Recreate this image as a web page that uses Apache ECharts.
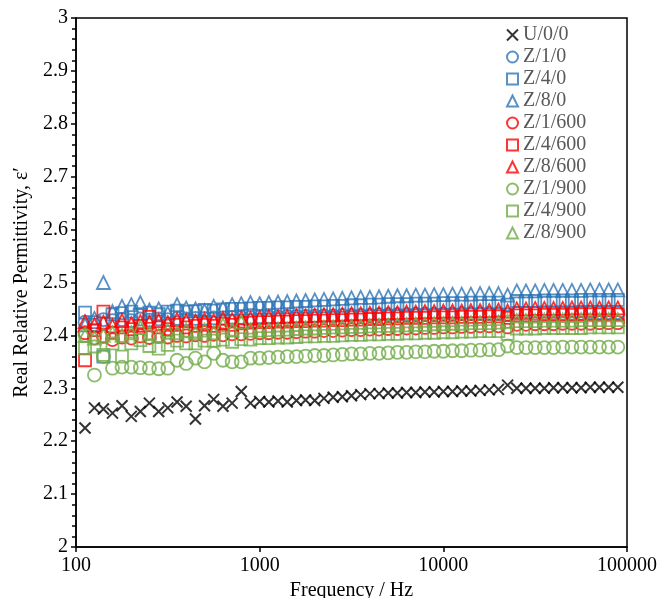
<!DOCTYPE html>
<html>
<head>
<meta charset="utf-8">
<script src="https://cdn.jsdelivr.net/npm/echarts@6/dist/echarts.min.js"></script>
<style>html,body{margin:0;padding:0;background:#fff}#c{width:658px;height:598px}</style>
</head>
<body>
<div id="c"></div>
<script>
const freqs = [112,126,141,158,178,200,224,251,282,316,355,398,447,501,562,631,708,794,891,1000,1122,1259,1413,1585,1778,1995,2239,2512,2818,3162,3548,3981,4467,5012,5623,6310,7079,7943,8913,10000,11220,12589,14125,15849,17783,19953,22387,25119,28184,31623,35481,39811,44668,50119,56234,63096,70795,79433,89125];

const U_0_0 = [2.225,2.263,2.261,2.253,2.267,2.247,2.256,2.272,2.256,2.263,2.274,2.266,2.242,2.267,2.279,2.266,2.272,2.294,2.272,2.275,2.274,2.276,2.274,2.277,2.278,2.277,2.281,2.283,2.284,2.286,2.288,2.290,2.290,2.291,2.291,2.292,2.292,2.293,2.293,2.294,2.294,2.295,2.295,2.296,2.297,2.298,2.306,2.300,2.300,2.300,2.300,2.301,2.301,2.301,2.301,2.302,2.302,2.302,2.302];
const Z_1_0 = [2.425,2.420,2.430,2.428,2.430,2.428,2.431,2.429,2.431,2.430,2.432,2.431,2.432,2.432,2.433,2.433,2.434,2.434,2.434,2.435,2.435,2.435,2.436,2.436,2.436,2.437,2.437,2.437,2.438,2.438,2.438,2.438,2.439,2.439,2.439,2.439,2.440,2.440,2.440,2.440,2.440,2.441,2.441,2.441,2.441,2.441,2.439,2.442,2.442,2.442,2.442,2.442,2.442,2.442,2.442,2.443,2.443,2.443,2.443];
const Z_4_0 = [2.443,2.425,2.360,2.440,2.442,2.445,2.440,2.443,2.440,2.445,2.447,2.445,2.446,2.448,2.447,2.449,2.450,2.450,2.451,2.452,2.452,2.453,2.453,2.454,2.454,2.455,2.455,2.456,2.456,2.457,2.457,2.458,2.458,2.459,2.459,2.459,2.460,2.460,2.460,2.461,2.461,2.461,2.462,2.462,2.462,2.462,2.458,2.465,2.465,2.465,2.466,2.466,2.466,2.466,2.467,2.467,2.467,2.467,2.467];
const Z_8_0 = [2.420,2.432,2.500,2.445,2.455,2.458,2.462,2.448,2.450,2.442,2.458,2.452,2.450,2.447,2.455,2.452,2.458,2.460,2.462,2.460,2.462,2.463,2.464,2.465,2.466,2.467,2.468,2.469,2.470,2.471,2.472,2.472,2.473,2.474,2.475,2.475,2.476,2.476,2.477,2.477,2.478,2.478,2.478,2.479,2.479,2.479,2.476,2.484,2.484,2.484,2.485,2.485,2.485,2.485,2.485,2.486,2.486,2.486,2.486];
const Z_1_600 = [2.405,2.395,2.398,2.392,2.397,2.395,2.399,2.396,2.398,2.397,2.400,2.399,2.401,2.400,2.402,2.401,2.403,2.403,2.404,2.405,2.405,2.406,2.406,2.407,2.408,2.408,2.409,2.409,2.410,2.411,2.411,2.412,2.412,2.413,2.413,2.414,2.414,2.415,2.415,2.416,2.416,2.417,2.417,2.418,2.418,2.418,2.416,2.421,2.421,2.422,2.422,2.422,2.423,2.423,2.423,2.423,2.424,2.424,2.424];
const Z_4_600 = [2.353,2.410,2.445,2.405,2.415,2.412,2.418,2.435,2.415,2.412,2.420,2.415,2.418,2.420,2.418,2.422,2.420,2.423,2.424,2.425,2.425,2.426,2.426,2.427,2.427,2.428,2.428,2.429,2.429,2.430,2.430,2.431,2.431,2.432,2.432,2.433,2.433,2.433,2.434,2.434,2.434,2.435,2.435,2.435,2.436,2.436,2.433,2.438,2.438,2.438,2.439,2.439,2.439,2.439,2.440,2.440,2.440,2.440,2.440];
const Z_8_600 = [2.426,2.420,2.425,2.418,2.428,2.422,2.426,2.425,2.428,2.424,2.430,2.428,2.427,2.430,2.428,2.432,2.430,2.433,2.432,2.434,2.435,2.435,2.436,2.437,2.437,2.438,2.439,2.439,2.440,2.441,2.441,2.442,2.442,2.443,2.443,2.444,2.444,2.445,2.445,2.446,2.446,2.446,2.447,2.447,2.447,2.448,2.446,2.450,2.450,2.451,2.451,2.451,2.451,2.452,2.452,2.452,2.452,2.452,2.452];
const Z_1_900 = [2.400,2.325,2.360,2.338,2.340,2.340,2.339,2.338,2.337,2.338,2.353,2.347,2.357,2.350,2.366,2.353,2.350,2.350,2.357,2.357,2.358,2.359,2.360,2.360,2.361,2.362,2.362,2.363,2.364,2.365,2.365,2.366,2.366,2.367,2.368,2.368,2.369,2.369,2.370,2.370,2.371,2.371,2.372,2.372,2.373,2.373,2.380,2.377,2.377,2.377,2.377,2.377,2.378,2.378,2.378,2.378,2.378,2.378,2.378];
const Z_4_900 = [2.376,2.379,2.363,2.385,2.360,2.385,2.391,2.380,2.375,2.382,2.390,2.385,2.385,2.390,2.390,2.392,2.388,2.393,2.392,2.395,2.395,2.396,2.396,2.397,2.398,2.398,2.399,2.399,2.400,2.401,2.401,2.402,2.402,2.403,2.403,2.404,2.404,2.405,2.405,2.406,2.406,2.407,2.407,2.408,2.408,2.408,2.403,2.413,2.413,2.413,2.414,2.414,2.414,2.414,2.414,2.415,2.415,2.415,2.415];
const Z_8_900 = [2.400,2.395,2.400,2.405,2.400,2.405,2.415,2.405,2.400,2.410,2.405,2.410,2.405,2.410,2.405,2.420,2.410,2.425,2.410,2.410,2.411,2.412,2.412,2.413,2.414,2.414,2.415,2.416,2.416,2.417,2.417,2.418,2.419,2.419,2.420,2.420,2.421,2.421,2.422,2.422,2.423,2.423,2.424,2.424,2.424,2.425,2.427,2.428,2.428,2.428,2.429,2.429,2.429,2.429,2.430,2.430,2.430,2.430,2.430];

const seriesNames = ['U/0/0','Z/1/0','Z/4/0','Z/8/0','Z/1/600','Z/4/600','Z/8/600','Z/1/900','Z/4/900','Z/8/900'];
const seriesValues = [U_0_0,Z_1_0,Z_4_0,Z_8_0,Z_1_600,Z_4_600,Z_8_600,Z_1_900,Z_4_900,Z_8_900];
const yTicks = [2,2.1,2.2,2.3,2.4,2.5,2.6,2.7,2.8,2.9,3];
const xTicks = [100,1000,10000,100000];

const BLACK='#000000', BLUE='#2E75B6', RED='#FF0000', GREEN='#70AD47';
const colors = [BLACK,BLUE,BLUE,BLUE,RED,RED,RED,GREEN,GREEN,GREEN];
const CROSS = 'path://M0,0L10,10M0,10L10,0';
const symbols = [CROSS,'circle','rect','triangle','circle','rect','triangle','circle','rect','triangle'];
const sizes = [11,13,12,13,13,12,13,13,12,13];
const FONT = '"Liberation Serif","Times New Roman",serif';

const series = seriesNames.map((n,i)=>({
  name:n, type:'scatter', symbol:symbols[i], symbolSize:sizes[i],
  data: freqs.map((f,j)=>[f, seriesValues[i][j]]),
  itemStyle:{color:'rgba(255,255,255,0)', borderColor:colors[i], borderWidth: i===0?2:1.8},
  emphasis:{disabled:true}, animation:false
}));

const legendData = seriesNames.map((n,i)=>({
  name:n, icon:symbols[i],
  itemStyle:{color:'rgba(255,255,255,0)', borderColor:colors[i], borderWidth:2}
}));

const chart = echarts.init(document.getElementById('c'), null, {renderer:'canvas'});
chart.setOption({
  animation:false,
  backgroundColor:'#fff',
  grid:{left:76, right:31, top:18, bottom:51, outerBoundsMode:'none', containLabel:false, show:true, borderColor:'#000', borderWidth:1.5, backgroundColor:'rgba(0,0,0,0)'},
  xAxis:{
    type:'log', logBase:10, min:xTicks[0], max:xTicks[xTicks.length-1],
    name:'Frequency / Hz', nameLocation:'middle', nameGap:34,
    nameTextStyle:{fontFamily:FONT, fontSize:20, color:'#000'},
    axisLine:{show:true, lineStyle:{color:'#000', width:1.5}},
    axisTick:{show:true, length:5, lineStyle:{color:'#000', width:1.5}},
    minorTick:{show:false},
    splitLine:{show:false},
    axisLabel:{fontFamily:FONT, fontSize:20, color:'#000', margin:9, formatter:(v)=>String(Math.round(v))}
  },
  yAxis:{
    type:'value', min:yTicks[0], max:yTicks[yTicks.length-1], interval:0.1,
    name:'Real Relative Permittivity, ε′', nameLocation:'middle', nameGap:44,
    nameTextStyle:{fontFamily:FONT, fontSize:20, color:'#000'},
    axisLine:{show:true, lineStyle:{color:'#000', width:1.5}},
    axisTick:{show:true, length:5, lineStyle:{color:'#000', width:1.5}},
    minorTick:{show:true, splitNumber:5, length:4, lineStyle:{color:'#000', width:1.5}},
    splitLine:{show:false},
    axisLabel:{fontFamily:FONT, fontSize:20, color:'#000', margin:8}
  },
  legend:{
    orient:'vertical', left:501, top:19, itemGap:0, itemWidth:11, itemHeight:11,
    textStyle:{fontFamily:FONT, fontSize:20, color:'#595959', lineHeight:22},
    data:legendData
  },
  series:series
});
</script>
</body>
</html>
